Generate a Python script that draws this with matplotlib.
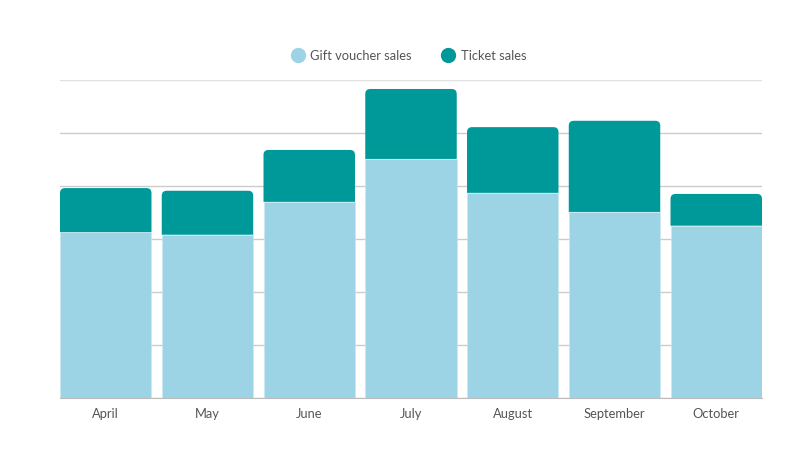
import matplotlib
matplotlib.use("Agg")
import matplotlib.pyplot as plt
from matplotlib.path import Path
from matplotlib.patches import PathPatch
from matplotlib.lines import Line2D

months = ["April", "May", "June", "July", "August", "September", "October"]
gift_voucher = [313, 308, 370, 451, 387, 351, 325]
ticket = [83, 83, 98, 132, 124, 172, 60]

light = "#9dd4e5"
teal = "#009999"

plt.rcParams["font.family"] = ["Lato", "DejaVu Sans"]

fig = plt.figure(figsize=(8, 4.5), dpi=100)
ax = fig.add_axes([0.075, 0.1156, 0.8775, 0.7067])

x = list(range(len(months)))
w = 0.899
ax.bar(x, gift_voucher, width=w, color=light, edgecolor="#c8e8f0", linewidth=0.4, zorder=2)
tops = ax.bar(x, ticket, bottom=gift_voucher, width=w, color=teal, linewidth=0, zorder=2)

ax.set_xlim(-w / 2, len(months) - 1 + w / 2)
ax.set_ylim(0, 600)

# swap the top segments for ones with rounded upper corners (~5 px)
fig.canvas.draw()
px_x = ax.transData.transform((1, 0))[0] - ax.transData.transform((0, 0))[0]
px_y = ax.transData.transform((0, 100))[1] - ax.transData.transform((0, 0))[1]
rx = 5 / px_x
ry = 5 * 100 / px_y
for b in tops:
    x0, y0 = b.get_x(), b.get_y()
    bw, bh = b.get_width(), b.get_height()
    x1, y1 = x0 + bw, y0 + bh
    verts = [(x0, y0), (x0, y1 - ry), (x0, y1), (x0 + rx, y1),
             (x1 - rx, y1), (x1, y1), (x1, y1 - ry), (x1, y0), (x0, y0)]
    codes = [Path.MOVETO, Path.LINETO, Path.CURVE3, Path.CURVE3,
             Path.LINETO, Path.CURVE3, Path.CURVE3, Path.LINETO, Path.CLOSEPOLY]
    b.set_visible(False)
    ax.add_patch(PathPatch(Path(verts, codes), facecolor=teal, edgecolor="none",
                           zorder=2))

ax.set_yticks(range(0, 601, 100))
ax.yaxis.grid(True, color="#cccccc", linewidth=1, zorder=0)
ax.tick_params(axis="y", length=0, labelleft=False)
ax.set_xticks(x)
ax.set_xticklabels(months, fontsize=9.3, color="#555555")
ax.tick_params(axis="x", length=0, pad=7)
for s in ["top", "right", "left"]:
    ax.spines[s].set_visible(False)
ax.spines["bottom"].set_color("#bbbbbb")
ax.spines["bottom"].set_zorder(3)
ax.get_ygridlines()[-1].set_color("#e0e0e0")

handles = [Line2D([], [], marker="o", linestyle="", markersize=10, color=light),
           Line2D([], [], marker="o", linestyle="", markersize=10, color=teal)]
fig.legend(handles, ["Gift voucher sales", "Ticket sales"], loc="center",
           bbox_to_anchor=(0.511, 0.876), ncol=2, frameon=False, fontsize=9.3,
           handletextpad=0.45, columnspacing=2.35, labelcolor="#555555",
           handlelength=1.0)

fig.savefig("out.png", dpi=100)
